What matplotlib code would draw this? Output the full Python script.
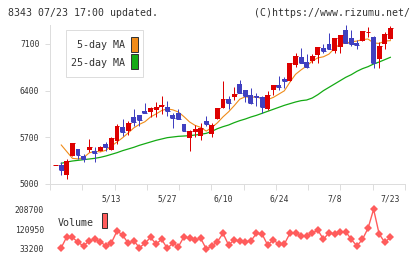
import matplotlib
matplotlib.use("Agg")
import matplotlib.pyplot as plt
from matplotlib.patches import Rectangle
import numpy as np

# ---------------- data ----------------
opens = [5280, 5285, 5135, 5425, 5520, 5425, 5510, 5495, 5495, 5595,
         5510, 5650, 5850, 5800, 6005, 6035, 6090, 6080, 6110, 6160,
         6150, 6030, 6060, 5895, 5695, 5780, 5725, 5945, 5755, 5975,
         6145, 6275, 6310, 6500, 6410, 6335, 6320, 6310, 6120, 6410,
         6485, 6575, 6550, 6785, 6900, 6830, 6850, 6935, 7035, 7100,
         7000, 7060, 7310, 7185, 7120, 7145, 7275, 7210, 6880, 7095, 7180]
highs = [5280, 5335, 5370, 5615, 5525, 5445, 5675, 5550, 5565, 5625,
         5700, 5895, 5975, 5945, 6125, 6040, 6210, 6160, 6225, 6320,
         6245, 6060, 6125, 5900, 5805, 5885, 5910, 6020, 5920, 6145,
         6545, 6320, 6460, 6560, 6415, 6440, 6370, 6320, 6395, 6490,
         6620, 6610, 6820, 6960, 7035, 6950, 6950, 7055, 7100, 7260,
         7190, 7240, 7385, 7310, 7160, 7300, 7360, 7215, 7135, 7280, 7370]
lows = [5280, 5135, 5075, 5420, 5370, 5335, 5485, 5335, 5490, 5500,
        5505, 5600, 5715, 5735, 5870, 5870, 6065, 6010, 6005, 6050,
        6025, 5845, 5975, 5795, 5500, 5700, 5660, 5865, 5700, 5970,
        6140, 6130, 6260, 6365, 6235, 6200, 6170, 6060, 6110, 6335,
        6410, 6445, 6545, 6760, 6815, 6740, 6820, 6810, 6970, 7020,
        6970, 6970, 7115, 7070, 7030, 7140, 7200, 6735, 6735, 7030, 7175]
closes = [5280, 5210, 5345, 5610, 5435, 5380, 5560, 5470, 5560, 5560,
          5695, 5870, 5785, 5920, 5935, 5960, 6070, 6140, 6150, 6190,
          6090, 5990, 5980, 5800, 5795, 5830, 5840, 5900, 5885, 6140,
          6275, 6220, 6355, 6370, 6325, 6210, 6300, 6160, 6335, 6485,
          6460, 6550, 6810, 6920, 6820, 6750, 6920, 7050, 7000, 7025,
          7185, 7235, 7120, 7100, 7080, 7295, 7280, 6820, 7070, 7250, 7335]
ma5 = [np.nan, 5585, 5485, 5385, 5376, 5396, 5466, 5491, 5481, 5506,
       5569, 5631, 5694, 5766, 5841, 5894, 5934, 6005, 6051, 6102,
       6128, 6112, 6080, 6010, 5931, 5879, 5849, 5793, 5849, 5918,
       6007, 6083, 6174, 6272, 6309, 6296, 6312, 6273, 6266, 6298,
       6348, 6398, 6528, 6645, 6712, 6770, 6844, 6892, 6908, 6949,
       7036, 7099, 7113, 7133, 7144, 7166, 7175, 7115, 7109, 7143, 7151]
ma25 = [np.nan, 5310, 5330, 5345, 5355, 5365, 5375, 5385, 5400, 5420,
        5445, 5470, 5500, 5525, 5550, 5580, 5605, 5630, 5655, 5675,
        5695, 5705, 5715, 5720, 5725, 5735, 5745, 5760, 5790, 5830,
        5860, 5885, 5920, 5950, 5975, 6005, 6030, 6060, 6090, 6120,
        6150, 6180, 6205, 6230, 6250, 6260, 6290, 6340, 6400, 6450,
        6500, 6550, 6600, 6640, 6690, 6730, 6760, 6800, 6830, 6865, 6900]
volume = [39100, 87700, 84800, 62700, 46500, 70000, 75900, 65600, 46500, 61200,
          112800, 95100, 58300, 70000, 39100, 58300, 84800, 55300, 75900, 36100,
          58300, 43500, 87700, 80400, 73000, 80400, 33200, 46500, 65600, 102500,
          50900, 73000, 68600, 65600, 68600, 102500, 99500, 50900, 73000, 55300,
          55300, 102500, 102500, 88700, 88700, 102500, 117500, 75900, 105400, 99500,
          106900, 109800, 75900, 46500, 75900, 124600, 208700, 99500, 62700, 84800]
date_idx = [10, 20, 30, 40, 50, 60]
date_labels = ["5/13", "5/27", "6/10", "6/24", "7/8", "7/23"]
price_ticks = [5000, 5700, 6400, 7100]
vol_ticks = [33200, 120950, 208700]
title_left = "8343 07/23 17:00 updated."
title_right = "(C)https://www.rizumu.net/"

# ---------------- styling ----------------
W, H = 420, 259
fig = plt.figure(figsize=(W / 100, H / 100), dpi=100)
FONT = "DejaVu Sans Mono"
TXT = "#333333"
GRID = "#dddddd"
UP = "#dd0000"
DOWN = "#4040c0"
ORANGE = "#f08c1a"
GREEN = "#14aa14"
VOLC = "#ff5c5c"
PX = 72 / 100  # points per pixel


def fx(p):
    return p / W


def fy(p):
    return 1 - p / H


x = np.arange(len(closes))
o = np.array(opens, float)
c = np.array(closes, float)
hi = np.array(highs, float)
lo = np.array(lows, float)
cols = [UP if cc >= oo else DOWN for oo, cc in zip(o, c)]

XL = (-1.02, 62.63)

ax = fig.add_axes([fx(50), fy(184), fx(405) - fx(50), fy(25) - fy(184)])
ax.set_xlim(*XL)
ax.set_ylim(5000, 7385)
for s in ("top", "right"):
    ax.spines[s].set_visible(False)
for s in ("left", "bottom"):
    ax.spines[s].set_color(GRID)
    ax.spines[s].set_linewidth(1 * PX)

# moving averages behind candles
ax.plot(x, ma5, color=ORANGE, lw=0.8, zorder=1)
ax.plot(x, ma25, color=GREEN, lw=0.9, zorder=1)

# candles
ax.vlines(x, lo, hi, colors=cols, lw=1 * PX, zorder=2)
ax.bar(x, np.abs(c - o), bottom=np.minimum(o, c), width=0.88, color=cols,
       linewidth=0, zorder=3)
ax.hlines(c, x - 0.44, x + 0.44, colors=cols, lw=1 * PX, zorder=3)

# ticks
ax.set_xticks(np.linspace(XL[0], XL[1], 12))
ax.set_xticklabels([])
ax.tick_params(axis="x", which="major", direction="out", length=6 * PX,
               width=1 * PX, color=GRID)
ax.set_xticks(date_idx, minor=True)
ax.set_xticklabels(date_labels, minor=True, fontfamily=FONT, fontsize=5.8,
                   color=TXT)
ax.tick_params(axis="x", which="minor", length=0, pad=7.6)
ax.set_yticks(price_ticks)
ax.set_yticklabels([str(v) for v in price_ticks], fontfamily=FONT,
                   fontsize=5.8, color=TXT)
ax.tick_params(axis="y", direction="out", length=5 * PX, width=1 * PX,
               color=GRID, pad=4)

# volume panel
av = fig.add_axes([fx(50), fy(249), fx(405) - fx(50), fy(209.3) - fy(249)])
av.set_xlim(*XL)
av.set_ylim(vol_ticks[0], vol_ticks[-1])
for s in av.spines.values():
    s.set_visible(False)
av.plot(x[1:], volume, color=VOLC, lw=1.0, marker="D", ms=4.0,
        markeredgewidth=0, clip_on=False)
av.set_xticks([])
av.set_yticks(vol_ticks)
av.set_yticklabels([str(v) for v in vol_ticks], fontfamily=FONT, fontsize=5.8,
                   color=TXT)
av.tick_params(axis="y", length=0, pad=4.3)

# legends
fig.add_artist(Rectangle((fx(65.7), fy(77.3)), fx(143.3) - fx(65.7),
                         fy(30) - fy(77.3), transform=fig.transFigure,
                         facecolor="white", edgecolor=GRID, lw=1 * PX,
                         zorder=5))
fig.text(fx(125), fy(45.5), "5-day MA", ha="right", va="center",
         fontfamily=FONT, fontsize=7.2, color=TXT, zorder=6)
fig.text(fx(125), fy(62.5), "25-day MA", ha="right", va="center",
         fontfamily=FONT, fontsize=7.2, color=TXT, zorder=6)
fig.add_artist(Rectangle((fx(131), fy(52.3)), fx(6.7), fy(0) - fy(15),
                         transform=fig.transFigure, facecolor=ORANGE,
                         edgecolor="#333333", lw=1 * PX, zorder=6))
fig.add_artist(Rectangle((fx(131), fy(69.3)), fx(6.7), fy(0) - fy(15),
                         transform=fig.transFigure, facecolor=GREEN,
                         edgecolor="#333333", lw=1 * PX, zorder=6))

fig.text(fx(58), fy(222.5), "Volume", ha="left", va="center",
         fontfamily=FONT, fontsize=7.2, color=TXT, zorder=6)
fig.add_artist(Rectangle((fx(101.7), fy(228.3)), fx(5.6), fy(0) - fy(15.6),
                         transform=fig.transFigure, facecolor=VOLC,
                         edgecolor="#333333", lw=1 * PX, zorder=6))

fig.text(fx(8), fy(12.5), title_left, ha="left", va="center",
         fontfamily=FONT, fontsize=7.1, color=TXT)
fig.text(fx(410), fy(12.5), title_right, ha="right", va="center",
         fontfamily=FONT, fontsize=7.1, color=TXT)

fig.savefig("out.png", dpi=100)
